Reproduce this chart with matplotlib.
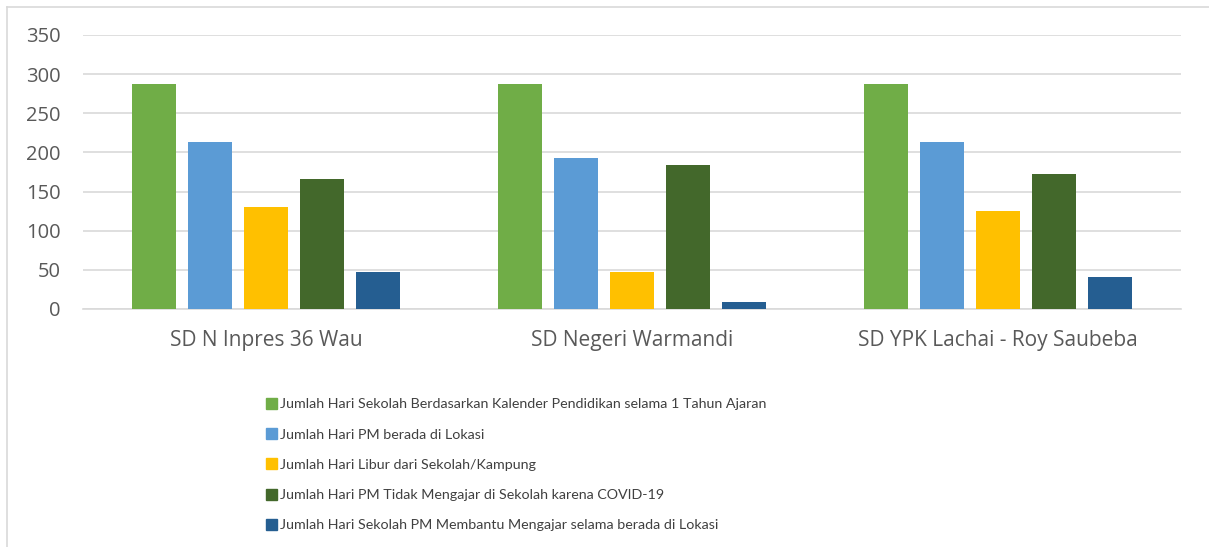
import matplotlib
matplotlib.use("Agg")
import matplotlib.pyplot as plt
import numpy as np
from matplotlib.patches import Rectangle
from matplotlib.lines import Line2D

categories = ["SD N Inpres 36 Wau", "SD Negeri Warmandi", "SD YPK Lachai - Roy Saubeba"]
series_names = [
    "Jumlah Hari Sekolah Berdasarkan Kalender Pendidikan selama 1 Tahun Ajaran",
    "Jumlah Hari PM berada di Lokasi",
    "Jumlah Hari Libur dari Sekolah/Kampung",
    "Jumlah Hari PM Tidak Mengajar di Sekolah karena COVID-19",
    "Jumlah Hari Sekolah PM Membantu Mengajar selama berada di Lokasi",
]
kalender = [288, 288, 288]
di_lokasi = [213, 193, 213]
libur = [130, 47, 125]
covid = [166, 184, 172]
membantu = [47, 9, 41]
series_values = [kalender, di_lokasi, libur, covid, membantu]
colors = ["#70AD47", "#5B9BD5", "#FFC000", "#43682B", "#255E91"]
yticks = [0, 50, 100, 150, 200, 250, 300, 350]

plt.rcParams['font.family'] = ['Open Sans', 'DejaVu Sans']

fig = plt.figure(figsize=(12.09, 5.47), dpi=100)
W, H = 1209, 547
ax = fig.add_axes([83 / W, 1 - 309 / H, (1181 - 83) / W, (309 - 35) / H])

x = np.arange(len(categories))
pitch = 0.1535
width = 0.12
for i, (vals, c, name) in enumerate(zip(series_values, colors, series_names)):
    ax.bar(x + (i - 2) * pitch, vals, width=width, color=c, label=name, zorder=3)

ax.set_xlim(-0.5, len(categories) - 0.5)
ax.set_ylim(0, 350)
ax.set_yticks(yticks)
ax.set_xticks(x)
ax.set_xticklabels(categories)
ax.yaxis.grid(True, color="#D9D9D9", linewidth=1.2, zorder=0)
ax.set_axisbelow(True)
for s in ["top", "right", "left"]:
    ax.spines[s].set_visible(False)
ax.spines["bottom"].set_color("#D9D9D9")
ax.spines["bottom"].set_linewidth(1.2)
ax.tick_params(axis="y", length=0, colors="#595959", labelsize=14.5, pad=16)
ax.tick_params(axis="x", length=0, colors="#595959", labelsize=15, pad=15)

handles = [Rectangle((0, 0), 1, 1, color=c) for c in colors]
leg = fig.legend(handles, series_names, loc="upper left",
                 bbox_to_anchor=(260 / W, 1 - 392 / H),
                 frameon=False, prop={"family": ["Lato", "DejaVu Sans"], "size": 10.3},
                 handlelength=0.82, handleheight=0.82,
                 handletextpad=0.15, labelspacing=1.24, borderaxespad=0)
for t in leg.get_texts():
    t.set_color("#404040")

# chart frame (left and top)
fig.add_artist(Line2D([7 / W, 7 / W], [0, 1 - 7 / H], color="#D9D9D9", lw=1.2, transform=fig.transFigure))
fig.add_artist(Line2D([7 / W, 1], [1 - 7 / H, 1 - 7 / H], color="#D9D9D9", lw=1.2, transform=fig.transFigure))

fig.savefig("out.png", dpi=100, facecolor="white")
